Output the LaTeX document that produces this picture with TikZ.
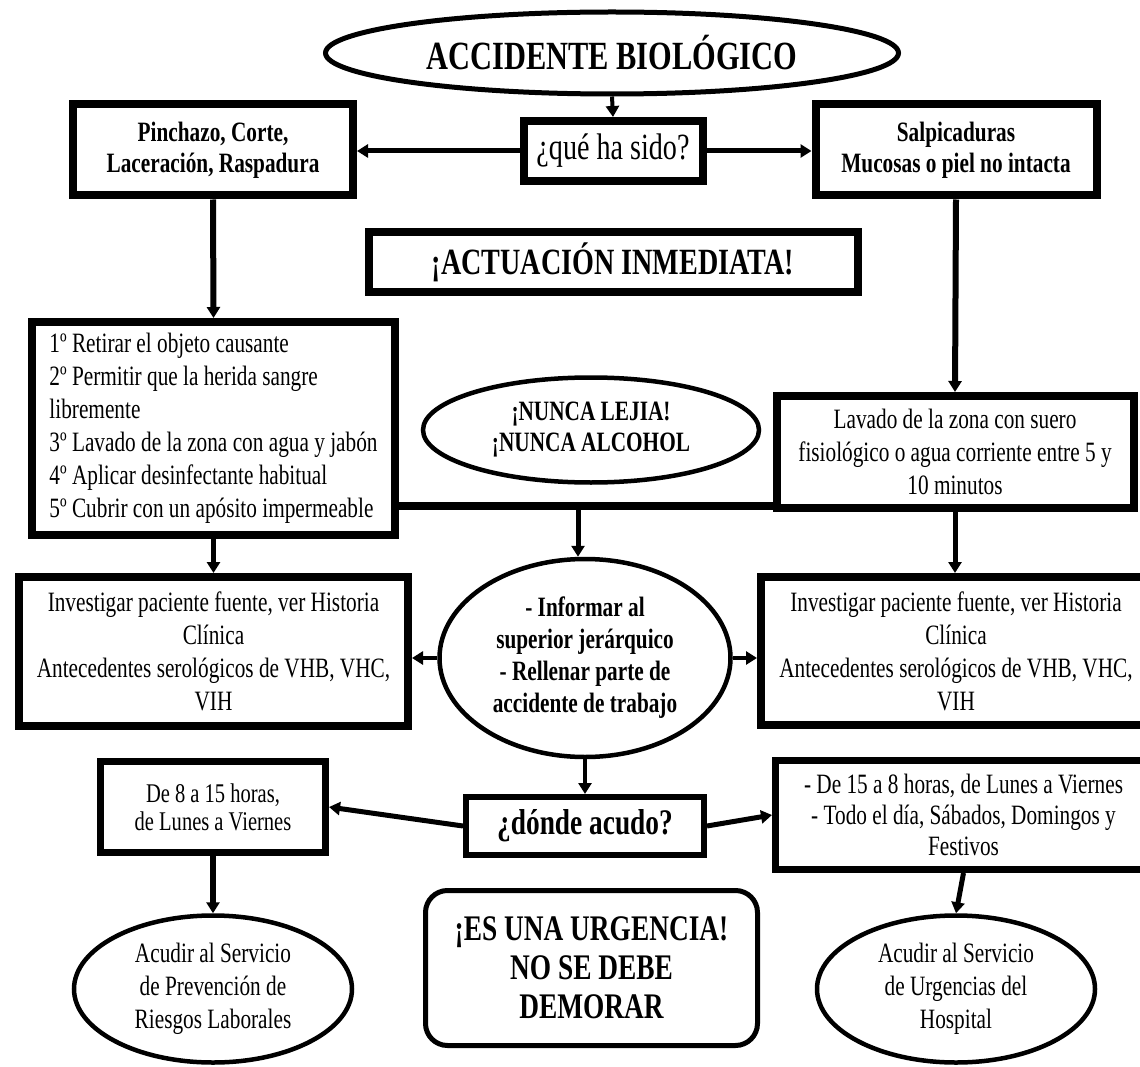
\documentclass[tikz,border=0pt]{standalone}
\usepackage{fontspec}
\setmainfont{Liberation Serif}[FakeStretch=0.76]
\usetikzlibrary{shapes.geometric,arrows.meta}
\begin{document}
\begin{tikzpicture}[x=1pt,y=-1pt,
  box/.style={draw, line width=8pt, rectangle, inner sep=0pt, align=center},
  ell/.style={draw, line width=4.5pt, ellipse, inner sep=0pt, align=center},
  conn/.style={line width=5pt},
  arr/.style={conn, -{Triangle[length=11pt,width=13pt]}},
  body/.style={font=\fontsize{28}{33}\selectfont},
  bbody/.style={font=\bfseries\fontsize{28}{31}\selectfont},
]
\clip (0,0) rectangle (1140,1067);
\fill[white] (0,0) rectangle (1140,1067);

% nodes
\node[ell, line width=5pt, minimum width=573, minimum height=82,
      font=\bfseries\fontsize{40}{44}\selectfont] (title) at (612,53) {ACCIDENTE BIOLÓGICO};
\node[box, minimum width=179, minimum height=60,
      font=\fontsize{37}{40}\selectfont] (que) at (613,151) {¿qué ha sido?};
\node[box, bbody, minimum width=280, minimum height=91] (pin) at (213,150)
      {Pinchazo, Corte,\\Laceración, Raspadura};
\node[box, bbody, minimum width=281, minimum height=91] (sal) at (956,150)
      {Salpicaduras\\Mucosas o piel no intacta};
\node[box, minimum width=489, minimum height=60,
      font=\bfseries\fontsize{37}{40}\selectfont] (act) at (613,262) {¡ACTUACIÓN INMEDIATA!};
\node[box, body, align=left, minimum width=363, minimum height=213] (b1) at (213.5,428.5)
      {1º Retirar el objeto causante\\2º Permitir que la herida sangre\\libremente\\3º Lavado de la zona con agua y jabón\\4º Aplicar desinfectante habitual\\5º Cubrir con un apósito impermeable};
\node[box, body, minimum width=357, minimum height=112] (lav) at (955,452)
      {Lavado de la zona con suero\\fisiológico o agua corriente entre 5 y\\10 minutos};
\node[ell, bbody, minimum width=336, minimum height=105] (nun) at (591,430)
      {¡NUNCA LEJIA!\\¡NUNCA ALCOHOL};
\node[ell, font=\bfseries\fontsize{28}{32}\selectfont, minimum width=291, minimum height=198] (inf) at (585,658)
      {- Informar al\\superior jerárquico\\- Rellenar parte de\\accidente de trabajo};
\node[box, body, minimum width=389, minimum height=149] (invl) at (213.5,651.5)
      {Investigar paciente fuente, ver Historia\\Clínica\\Antecedentes serológicos de VHB, VHC,\\VIH};
\node[box, body, minimum width=390, minimum height=148] (invr) at (956,651)
      {Investigar paciente fuente, ver Historia\\Clínica\\Antecedentes serológicos de VHB, VHC,\\VIH};
\node[box, line width=6pt, minimum width=238, minimum height=58,
      font=\bfseries\fontsize{36}{40}\selectfont] (don) at (585,826) {¿dónde acudo?};
\node[box, line width=7pt, font=\fontsize{27}{28}\selectfont, minimum width=225, minimum height=91] (de8) at (213,807)
      {De 8 a 15 horas,\\de Lunes a Viernes};
\node[box, line width=7pt, font=\fontsize{28}{31}\selectfont, minimum width=376, minimum height=109] (sch) at (963.5,815)
      {- De 15 a 8 horas, de Lunes a Viernes\\- Todo el día, Sábados, Domingos y\\Festivos};
\node[ell, body, minimum width=278, minimum height=147] (rl) at (213,989)
      {Acudir al Servicio\\de Prevención de\\Riesgos Laborales};
\node[ell, body, minimum width=278, minimum height=147] (rr) at (956,989)
      {Acudir al Servicio\\de Urgencias del\\Hospital};
\node[draw, line width=5pt, rounded corners=22pt, align=center, inner sep=0pt,
      minimum width=332, minimum height=155,
      font=\bfseries\fontsize{36}{39}\selectfont] (urg) at (591.5,968)
      {¡ES UNA URGENCIA!\\NO SE DEBE\\DEMORAR};

% connectors
\draw[arr, line width=4pt] (title.south) -- (que.north);
\draw[arr] (que.west) -- (pin.east |- que.west);
\draw[arr] (que.east) -- (sal.west |- que.east);
\draw[arr, line width=6pt] (pin.south) -- (b1.north);
\draw[arr, line width=6pt] (sal.south) -- (lav.north);
\coordinate (hub) at (578,506);
\draw[line width=8pt] (b1.east |- hub) -- (lav.west |- hub);
\draw[arr] (hub) -- (inf.north -| hub);
\draw[arr] (b1.south) -- (invl.north);
\draw[arr] (lav.south) -- (invr.north -| lav.south);
\draw[arr, line width=4pt] (inf.west) -- (invl.east |- inf.west);
\draw[arr, line width=4pt] (inf.east) -- (invr.west |- inf.east);
\draw[arr, line width=4pt] (inf.south) -- (don.north);
\draw[arr] (don.west) -- (de8.east);
\draw[arr] (don.east) -- (sch.west);
\draw[arr, line width=6pt] (de8.south) -- (rl.north);
\draw[arr] (sch.south) -- (rr.north);
\end{tikzpicture}
\end{document}
